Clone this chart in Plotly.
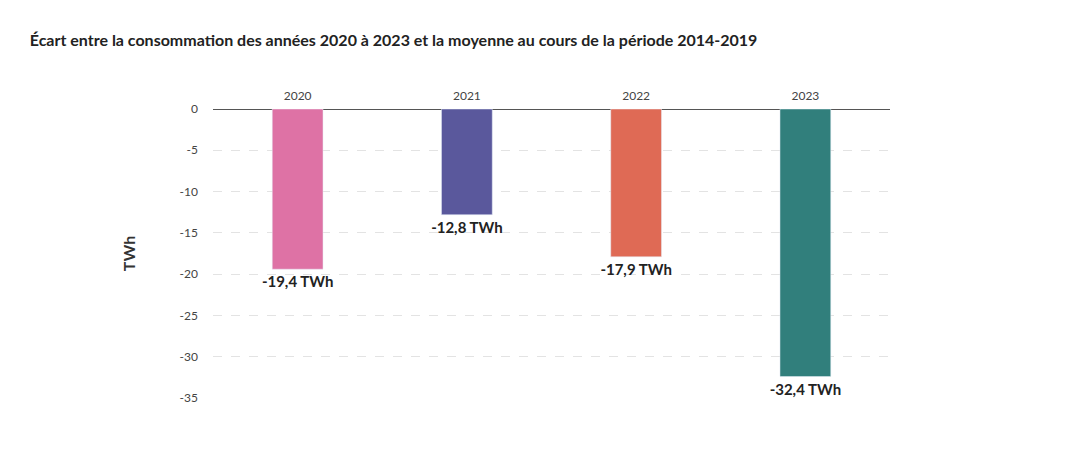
import plotly.graph_objects as go

years = ["2020", "2021", "2022", "2023"]
values = [-19.4, -12.8, -17.9, -32.4]
labels = ["-19,4 TWh", "-12,8 TWh", "-17,9 TWh", "-32,4 TWh"]
colors = ["#de72a5", "#5a589c", "#df6a55", "#317f7c"]

fig = go.Figure(go.Bar(
    x=years, y=values, marker_color=colors, width=0.3,
    text=labels, textposition="outside", constraintext="none",
    textfont=dict(family="Lato", size=15, color="#222", weight="bold"),
    cliponaxis=False, hoverinfo="skip"))

fig.update_layout(
    width=1090, height=467, plot_bgcolor="white", paper_bgcolor="white",
    margin=dict(l=205, r=208, t=101, b=77),
    font=dict(family="Lato", color="#444"),
    showlegend=False,
    title=dict(text="<b>Écart entre la consommation des années 2020 à 2023 et la moyenne au cours de la période 2014-2019</b>",
               x=0.02, xanchor="left", y=0.93, yanchor="middle",
               font=dict(size=16, color="#222")),
    xaxis=dict(side="top", showline=False, ticks="", tickfont=dict(size=12, color="#444"), ticklabelstandoff=6),
    yaxis=dict(range=[-35, 0], tickvals=[0, -5, -10, -15, -20, -25, -30, -35],
               ticktext=["0", "-5", "-10", "-15", "-20", "-25", "-30", "-35"],
               showgrid=True, gridcolor="#e3e3e3", griddash="dash",
               zeroline=True, zerolinecolor="#555", zerolinewidth=1,
               tickfont=dict(size=12, color="#444"), ticklabelstandoff=14,
               title=dict(text="<b>TWh</b>", font=dict(size=16, color="#333"), standoff=40)),
)
fig.write_html("out.html")
